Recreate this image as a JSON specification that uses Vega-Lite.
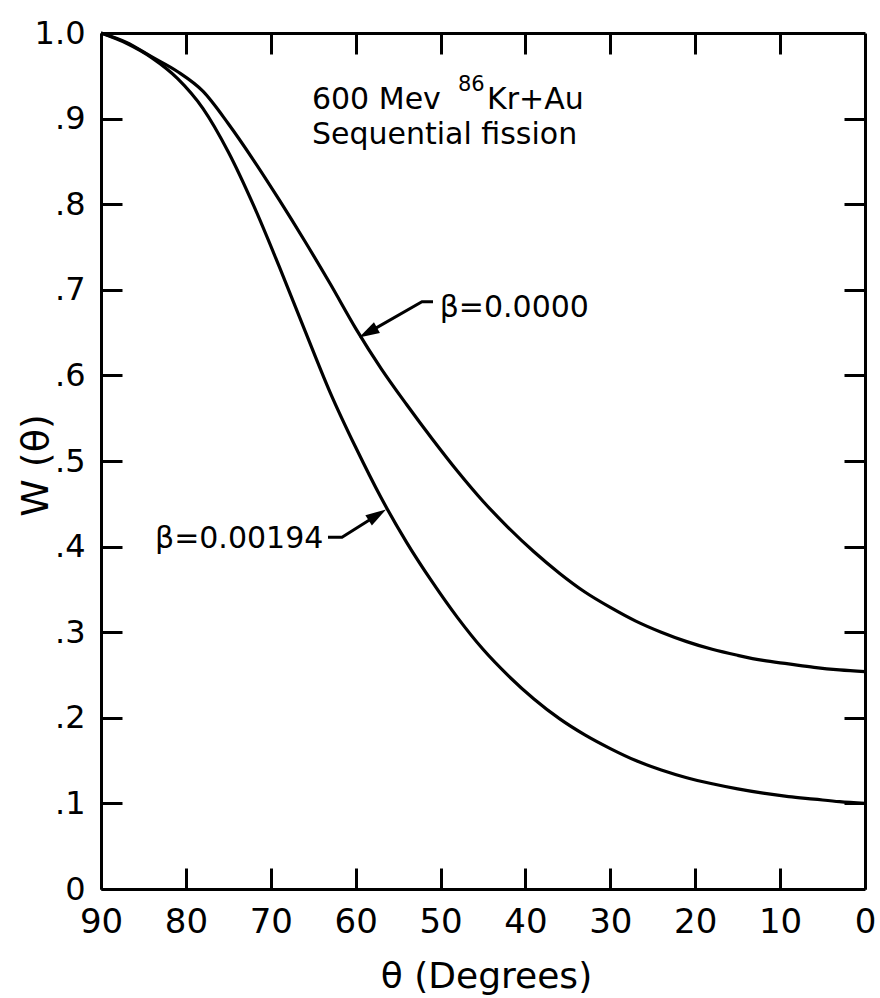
{
  "$schema": "https://vega.github.io/schema/vega-lite/v6.json",
  "width": 764,
  "height": 856,
  "autosize": {"type": "none"},
  "padding": {"left": 101, "top": 33, "right": 15, "bottom": 109},
  "background": "white",
  "config": {
    "view": {"stroke": null},
    "font": "DejaVu Sans",
    "axis": {
      "domainColor": "black", "domainWidth": 3, "tickColor": "black", "tickWidth": 3,
      "tickSize": -21, "grid": false, "labelColor": "black", "titleColor": "black",
      "labelFlush": false, "labelOverlap": false,
      "labelFont": "DejaVu Sans", "titleFont": "DejaVu Sans", "titleFontWeight": "normal"
    }
  },
  "datasets": {
    "curves": [
      {"theta": 90, "W": 1.000, "beta": "0.0000"},
      {"theta": 87, "W": 0.989, "beta": "0.0000"},
      {"theta": 84, "W": 0.972, "beta": "0.0000"},
      {"theta": 81, "W": 0.955, "beta": "0.0000"},
      {"theta": 78, "W": 0.932, "beta": "0.0000"},
      {"theta": 75, "W": 0.894, "beta": "0.0000"},
      {"theta": 72, "W": 0.851, "beta": "0.0000"},
      {"theta": 69, "W": 0.805, "beta": "0.0000"},
      {"theta": 66, "W": 0.757, "beta": "0.0000"},
      {"theta": 63, "W": 0.707, "beta": "0.0000"},
      {"theta": 60, "W": 0.655, "beta": "0.0000"},
      {"theta": 57, "W": 0.608, "beta": "0.0000"},
      {"theta": 54, "W": 0.566, "beta": "0.0000"},
      {"theta": 51, "W": 0.526, "beta": "0.0000"},
      {"theta": 48, "W": 0.488, "beta": "0.0000"},
      {"theta": 45, "W": 0.453, "beta": "0.0000"},
      {"theta": 42, "W": 0.422, "beta": "0.0000"},
      {"theta": 39, "W": 0.394, "beta": "0.0000"},
      {"theta": 36, "W": 0.369, "beta": "0.0000"},
      {"theta": 33, "W": 0.347, "beta": "0.0000"},
      {"theta": 30, "W": 0.329, "beta": "0.0000"},
      {"theta": 27, "W": 0.313, "beta": "0.0000"},
      {"theta": 24, "W": 0.300, "beta": "0.0000"},
      {"theta": 21, "W": 0.289, "beta": "0.0000"},
      {"theta": 18, "W": 0.280, "beta": "0.0000"},
      {"theta": 15, "W": 0.273, "beta": "0.0000"},
      {"theta": 12, "W": 0.267, "beta": "0.0000"},
      {"theta": 9, "W": 0.263, "beta": "0.0000"},
      {"theta": 6, "W": 0.259, "beta": "0.0000"},
      {"theta": 3, "W": 0.256, "beta": "0.0000"},
      {"theta": 0, "W": 0.254, "beta": "0.0000"},
      {"theta": 90, "W": 1.000, "beta": "0.00194"},
      {"theta": 87, "W": 0.988, "beta": "0.00194"},
      {"theta": 84, "W": 0.971, "beta": "0.00194"},
      {"theta": 81, "W": 0.947, "beta": "0.00194"},
      {"theta": 78, "W": 0.912, "beta": "0.00194"},
      {"theta": 75, "W": 0.861, "beta": "0.00194"},
      {"theta": 72, "W": 0.798, "beta": "0.00194"},
      {"theta": 69, "W": 0.727, "beta": "0.00194"},
      {"theta": 66, "W": 0.653, "beta": "0.00194"},
      {"theta": 63, "W": 0.580, "beta": "0.00194"},
      {"theta": 60, "W": 0.516, "beta": "0.00194"},
      {"theta": 57, "W": 0.457, "beta": "0.00194"},
      {"theta": 54, "W": 0.405, "beta": "0.00194"},
      {"theta": 51, "W": 0.359, "beta": "0.00194"},
      {"theta": 48, "W": 0.317, "beta": "0.00194"},
      {"theta": 45, "W": 0.280, "beta": "0.00194"},
      {"theta": 42, "W": 0.249, "beta": "0.00194"},
      {"theta": 39, "W": 0.222, "beta": "0.00194"},
      {"theta": 36, "W": 0.199, "beta": "0.00194"},
      {"theta": 33, "W": 0.180, "beta": "0.00194"},
      {"theta": 30, "W": 0.164, "beta": "0.00194"},
      {"theta": 27, "W": 0.150, "beta": "0.00194"},
      {"theta": 24, "W": 0.139, "beta": "0.00194"},
      {"theta": 21, "W": 0.130, "beta": "0.00194"},
      {"theta": 18, "W": 0.123, "beta": "0.00194"},
      {"theta": 15, "W": 0.117, "beta": "0.00194"},
      {"theta": 12, "W": 0.112, "beta": "0.00194"},
      {"theta": 9, "W": 0.108, "beta": "0.00194"},
      {"theta": 6, "W": 0.105, "beta": "0.00194"},
      {"theta": 3, "W": 0.102, "beta": "0.00194"},
      {"theta": 0, "W": 0.100, "beta": "0.00194"}
    ],
    "arrows": [
      {"arrow": "a", "theta": 50.89, "W": 0.686, "order": 1},
      {"arrow": "a", "theta": 52.19, "W": 0.686, "order": 2},
      {"arrow": "a", "theta": 58.55, "W": 0.650, "order": 3},
      {"arrow": "b", "theta": 63.26, "W": 0.411, "order": 1},
      {"arrow": "b", "theta": 61.61, "W": 0.411, "order": 2},
      {"arrow": "b", "theta": 57.45, "W": 0.437, "order": 3}
    ],
    "heads": [
      {"arrow": "a", "theta": 58.55, "W": 0.650},
      {"arrow": "b", "theta": 57.45, "W": 0.437}
    ],
    "notes": [
      {"theta": 65.15, "W": 0.911, "text": "600 Mev"},
      {"theta": 65.15, "W": 0.870, "text": "Sequential fission"},
      {"theta": 44.53, "W": 0.911, "text": "Kr+Au"},
      {"theta": 50.1, "W": 0.668, "text": "β=0.0000"},
      {"theta": 83.64, "W": 0.398, "text": "β=0.00194"}
    ],
    "sup": [
      {"theta": 47.95, "W": 0.932, "text": "86"}
    ]
  },
  "resolve": {"axis": {"x": "independent", "y": "independent"}},
  "layer": [
    {
      "data": {"name": "curves"},
      "transform": [{"filter": "datum.beta == '0.0000'"}],
      "mark": {"type": "line", "color": "black", "strokeWidth": 3.2, "interpolate": "monotone"},
      "encoding": {
        "x": {"field": "theta", "type": "quantitative",
              "scale": {"domain": [0, 90], "reverse": true, "nice": false},
              "axis": {"orient": "bottom", "values": [0,10,20,30,40,50,60,70,80,90],
                       "labelFontSize": 34, "labelPadding": 37, "labelBaseline": "top",
                       "title": "θ (Degrees)", "titleFontSize": 36,
                       "titleX": 385, "titleY": 98, "titleBaseline": "alphabetic"}},
        "y": {"field": "W", "type": "quantitative",
              "scale": {"domain": [0, 1], "nice": false},
              "axis": {"orient": "left", "values": [0,0.1,0.2,0.3,0.4,0.5,0.6,0.7,0.8,0.9,1],
                       "labelExpr": "datum.value == 0 ? '0' : datum.value == 1 ? '1.0' : replace(format(datum.value, '.1f'), '0.', '.')",
                       "labelFontSize": 32, "labelPadding": 37,
                       "title": "W (θ)", "titleFontSize": 38,
                       "titleX": -54, "titleY": 432, "titleBaseline": "alphabetic"}}
      }
    },
    {
      "data": {"name": "curves"},
      "transform": [{"filter": "datum.beta == '0.00194'"}],
      "mark": {"type": "line", "color": "black", "strokeWidth": 3.2, "interpolate": "monotone"},
      "encoding": {
        "x": {"field": "theta", "type": "quantitative",
              "axis": {"orient": "top", "values": [10,20,30,40,50,60,70,80], "labels": false, "title": null}},
        "y": {"field": "W", "type": "quantitative",
              "axis": {"orient": "right", "values": [0.1,0.2,0.3,0.4,0.5,0.6,0.7,0.8,0.9], "labels": false, "title": null}}
      }
    },
    {
      "data": {"name": "arrows"},
      "mark": {"type": "line", "color": "black", "strokeWidth": 3},
      "encoding": {
        "x": {"field": "theta", "type": "quantitative", "axis": null},
        "y": {"field": "W", "type": "quantitative", "axis": null},
        "detail": {"field": "arrow"},
        "order": {"field": "order"}
      }
    },
    {
      "data": {"name": "heads"},
      "transform": [{"filter": "datum.arrow == 'a'"}],
      "mark": {"type": "point", "shape": "M0,-1L0.6,1L-0.6,1Z", "filled": true, "color": "black", "opacity": 1, "size": 420, "angle": 241},
      "encoding": {
        "x": {"field": "theta", "type": "quantitative", "axis": null},
        "y": {"field": "W", "type": "quantitative", "axis": null}
      }
    },
    {
      "data": {"name": "heads"},
      "transform": [{"filter": "datum.arrow == 'b'"}],
      "mark": {"type": "point", "shape": "M0,-1L0.6,1L-0.6,1Z", "filled": true, "color": "black", "opacity": 1, "size": 420, "angle": 58},
      "encoding": {
        "x": {"field": "theta", "type": "quantitative", "axis": null},
        "y": {"field": "W", "type": "quantitative", "axis": null}
      }
    },
    {
      "data": {"name": "notes"},
      "mark": {"type": "text", "align": "left", "baseline": "alphabetic", "fontSize": 30, "color": "black", "font": "DejaVu Sans"},
      "encoding": {
        "x": {"field": "theta", "type": "quantitative", "axis": null},
        "y": {"field": "W", "type": "quantitative", "axis": null},
        "text": {"field": "text"}
      }
    },
    {
      "data": {"name": "sup"},
      "mark": {"type": "text", "align": "left", "baseline": "alphabetic", "fontSize": 21, "color": "black", "font": "DejaVu Sans"},
      "encoding": {
        "x": {"field": "theta", "type": "quantitative", "axis": null},
        "y": {"field": "W", "type": "quantitative", "axis": null},
        "text": {"field": "text"}
      }
    }
  ]
}
